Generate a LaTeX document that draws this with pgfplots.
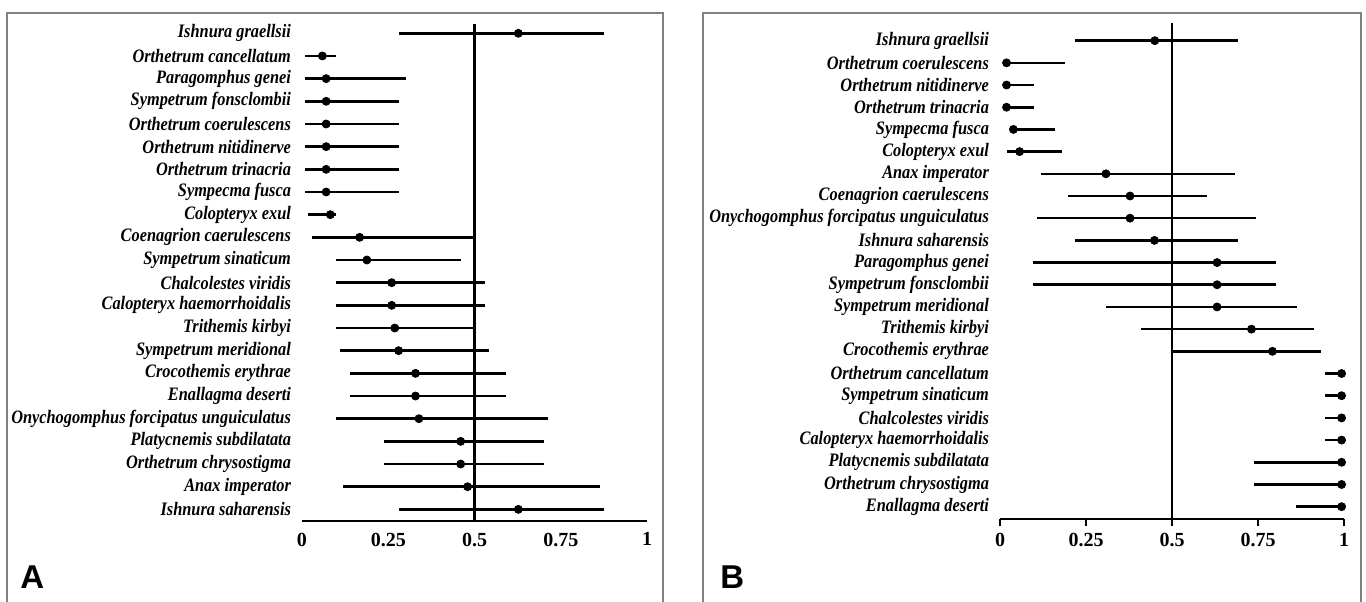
\documentclass[border=0pt]{standalone}
\usepackage{pgfplots}
\usepackage{pgfplotstable}
\pgfplotsset{compat=1.18}
\usepackage{fontspec}
\setmainfont{Liberation Serif}
\newfontfamily\panelfont{Liberation Sans}
\newfontfamily\labelfont{Liberation Serif}[FakeStretch=0.86]

\pgfplotstableread{
row lo est hi
1 0.28 0.627 0.875
2 0.008 0.059 0.10
3 0.008 0.07 0.30
4 0.008 0.07 0.28
5 0.008 0.07 0.28
6 0.008 0.07 0.28
7 0.008 0.07 0.28
8 0.008 0.07 0.28
9 0.018 0.082 0.10
10 0.028 0.167 0.50
11 0.098 0.188 0.462
12 0.098 0.26 0.531
13 0.098 0.26 0.531
14 0.098 0.269 0.50
15 0.109 0.28 0.541
16 0.139 0.329 0.59
17 0.139 0.329 0.59
18 0.098 0.339 0.714
19 0.239 0.46 0.702
20 0.239 0.46 0.702
21 0.119 0.48 0.863
22 0.28 0.627 0.875
}\dataA

\pgfplotstableread{
row lo est hi
1 0.218 0.45 0.692
2 0.019 0.019 0.19
3 0.019 0.019 0.10
4 0.019 0.019 0.10
5 0.029 0.039 0.16
6 0.019 0.057 0.181
7 0.118 0.308 0.683
8 0.197 0.378 0.602
9 0.107 0.378 0.743
10 0.218 0.449 0.692
11 0.097 0.631 0.802
12 0.097 0.631 0.802
13 0.309 0.631 0.863
14 0.409 0.731 0.914
15 0.502 0.792 0.933
16 0.945 0.993 0.993
17 0.945 0.993 0.993
18 0.945 0.993 0.993
19 0.945 0.993 0.993
20 0.739 0.993 0.993
21 0.739 0.993 0.993
22 0.86 0.993 0.993
}\dataB

\pgfplotsset{
  forest/.style={
    scale only axis,
    y dir=reverse,
    xmin=0, xmax=1,
    clip=false,
    axis x line*=bottom,
    axis y line*=left,
    y axis line style={draw=none},
    x axis line style={line width=1.1pt, black},
    ytick={1,...,22},
    ytick style={draw=none},
    xtick={0,0.25,0.5,0.75,1},
    xticklabels={0,0.25,0.5,0.75,1},
    yticklabel style={font=\labelfont\bfseries\itshape\fontsize{9.5}{10}\selectfont, xshift=-2pt},
    xticklabel style={font=\bfseries\fontsize{10}{11}\selectfont},
  },
  ci/.style={only marks, mark=*, mark size=2pt, black,
    error bars/.cd, x dir=both, x explicit, error mark=none,
    error bar style={line width=1.3pt, black}},
}

\begin{document}
\begin{tikzpicture}
\useasboundingbox (0,0) rectangle (683pt,300.5pt);
% panel frames
\draw[black!50, line width=0.6pt] (3.5pt,-5pt) -- (3.5pt,294pt) -- (331.5pt,294pt) -- (331.5pt,-5pt);
\draw[black!50, line width=0.6pt] (351.5pt,-5pt) -- (351.5pt,294pt) -- (680.5pt,294pt) -- (680.5pt,-5pt);

\begin{axis}[forest,
  at={(151pt,40.15pt)}, anchor=south west,
  width=172.5pt, height=248.35pt,
  ymin=0.59, ymax=22.5,
  xtick style={draw=none},
  yticklabels={Ishnura graellsii, Orthetrum cancellatum, Paragomphus genei,
    Sympetrum fonsclombii, Orthetrum coerulescens, Orthetrum nitidinerve,
    Orthetrum trinacria, Sympecma fusca, Colopteryx exul, Coenagrion caerulescens,
    Sympetrum sinaticum, Chalcolestes viridis, Calopteryx haemorrhoidalis,
    Trithemis kirbyi, Sympetrum meridional, Crocothemis erythrae, Enallagma deserti\ ,
    Onychogomphus forcipatus unguiculatus, Platycnemis subdilatata,
    Orthetrum chrysostigma, Anax imperator, Ishnura saharensis},
  xticklabel style={yshift=-2.5pt},
]
\addplot[black, line width=1.1pt] coordinates {(0.5,0.59) (0.5,22.5)};
\addplot[ci] table[x=est, y=row,
  x error plus expr=\thisrow{hi}-\thisrow{est},
  x error minus expr=\thisrow{est}-\thisrow{lo}] {\dataA};
\end{axis}

\begin{axis}[forest,
  at={(500pt,40.85pt)}, anchor=south west,
  width=172pt, height=248.2pt,
  ymin=0.2, ymax=22.57,
  tick align=outside, major tick length=3.5pt,
  xtick style={line width=0.9pt, black},
  yticklabel style={xshift=3.5pt},
  yticklabels={Ishnura graellsii, Orthetrum coerulescens, Orthetrum nitidinerve,
    Orthetrum trinacria, Sympecma fusca, Colopteryx exul, Anax imperator,
    Coenagrion caerulescens, Onychogomphus forcipatus unguiculatus,
    Ishnura saharensis, Paragomphus genei, Sympetrum fonsclombii,
    Sympetrum meridional, Trithemis kirbyi, Crocothemis erythrae,
    Orthetrum cancellatum, Sympetrum sinaticum, Chalcolestes viridis,
    Calopteryx haemorrhoidalis, Platycnemis subdilatata, Orthetrum chrysostigma,
    Enallagma deserti\ },
]
\addplot[black, line width=1.1pt] coordinates {(0.5,0.2) (0.5,22.57)};
\addplot[ci] table[x=est, y=row,
  x error plus expr=\thisrow{hi}-\thisrow{est},
  x error minus expr=\thisrow{est}-\thisrow{lo}] {\dataB};
\end{axis}

\node[anchor=west, font=\panelfont\bfseries\fontsize{16.5}{18}\selectfont, inner sep=0pt] at (10pt,12pt) {A};
\node[anchor=west, font=\panelfont\bfseries\fontsize{16.5}{18}\selectfont, inner sep=0pt] at (360pt,12pt) {B};
\end{tikzpicture}
\end{document}
